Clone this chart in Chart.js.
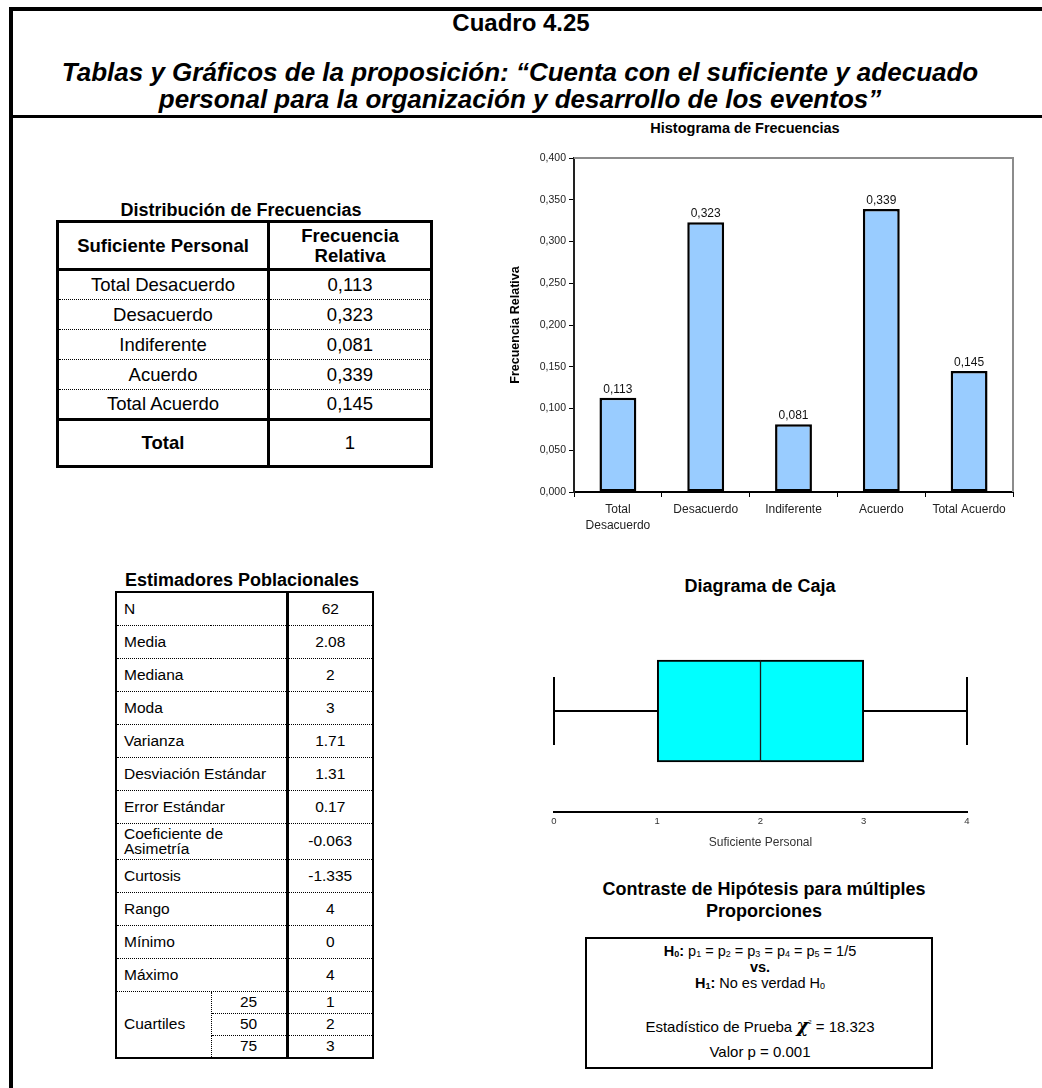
<!DOCTYPE html>
<html><head><meta charset="utf-8">
<script src="https://cdn.jsdelivr.net/npm/chart.js@4.4.1/dist/chart.umd.min.js"></script>
<style>
body{margin:0;background:#fff;}
#page{position:relative;width:1042px;height:1088px;overflow:hidden;font-family:"Liberation Sans",Arial,sans-serif;color:#000;background:#fff;}
.t{position:absolute;white-space:nowrap;transform:translate(-50%,-50%);line-height:1.15;text-align:center;}
.bar{position:absolute;background:#000;}
table{position:absolute;border-collapse:collapse;table-layout:fixed;}
td{padding:0;vertical-align:middle;}
sub{font-size:0.62em;vertical-align:-1px;}
canvas{position:absolute;}
</style></head>
<body><div id="page">
<div class="bar" style="left:9px;top:7px;width:1033px;height:4px;"></div>
<div class="bar" style="left:9px;top:7px;width:4px;height:1081px;"></div>
<div class="bar" style="left:9px;top:115px;width:1033px;height:3px;"></div>
<div class="t" style="left:521px;top:23px;font-size:24px;font-weight:bold;">Cuadro 4.25</div>
<div class="t" style="left:520px;top:73px;font-size:26px;font-weight:bold;font-style:italic;">Tablas y Gráficos de la proposición: “Cuenta con el suficiente y adecuado</div>
<div class="t" style="left:520px;top:100px;font-size:26px;font-weight:bold;font-style:italic;">personal para la organización y desarrollo de los eventos”</div>
<div class="t" style="left:745px;top:128px;font-size:14.5px;font-weight:bold;">Histograma de Frecuencias</div>
<div class="t" style="left:241px;top:210px;font-size:18px;font-weight:bold;">Distribución de Frecuencias</div>
<div class="t" style="left:242px;top:580px;font-size:18px;font-weight:bold;">Estimadores Poblacionales</div>
<div class="t" style="left:760px;top:586px;font-size:18px;font-weight:bold;">Diagrama de Caja</div>
<div class="t" style="left:764px;top:889px;font-size:18px;font-weight:bold;">Contraste de Hipótesis para múltiples</div>
<div class="t" style="left:764px;top:911px;font-size:18px;font-weight:bold;">Proporciones</div>
<div style="position:absolute;left:585px;top:937px;width:348px;height:132px;border:2px solid #000;box-sizing:border-box;"></div>
<div class="t" style="left:760px;top:951px;font-size:14.5px;"><b>H<sub>0</sub>:</b> p<sub>1</sub> = p<sub>2</sub> = p<sub>3</sub> = p<sub>4</sub> = p<sub>5</sub> = 1/5</div>
<div class="t" style="left:760px;top:967px;font-size:14.5px;font-weight:bold;">vs.</div>
<div class="t" style="left:760px;top:983px;font-size:14.5px;"><b>H<sub>1</sub>:</b> No es verdad H<sub>0</sub></div>
<div class="t" id="chiLine" style="left:760px;top:1026px;font-size:15px;"></div>
<div class="t" id="pLine" style="left:760px;top:1052px;font-size:15px;"></div>
<canvas id="hist" width="530" height="410" style="left:500px;top:140px;width:530px;height:410px;"></canvas>
<canvas id="box" width="480" height="260" style="left:530px;top:600px;width:480px;height:260px;"></canvas>
</div>
<script>
// ---------- data ----------
const categories = ['Total Desacuerdo', 'Desacuerdo', 'Indiferente', 'Acuerdo', 'Total Acuerdo'];
const histAxisLabels = [['Total', 'Desacuerdo'], 'Desacuerdo', 'Indiferente', 'Acuerdo', 'Total Acuerdo'];
const relativeFrequencies = [0.113, 0.323, 0.081, 0.339, 0.145];
const totalFrequency = 1;
const histYMax = 0.4;
const histYStep = 0.05;
const estimatorLabels = ['N', 'Media', 'Mediana', 'Moda', 'Varianza', 'Desviación Estándar', 'Error Estándar', 'Coeficiente de\nAsimetría', 'Curtosis', 'Rango', 'Mínimo', 'Máximo'];
const estimatorValues = ['62', '2.08', '2', '3', '1.71', '1.31', '0.17', '-0.063', '-1.335', '4', '0', '4'];
const quartileLevels = ['25', '50', '75'];
const quartileValues = ['1', '2', '3'];
const boxFiveNumbers = [0, 1, 2, 3, 4]; // min, Q1, median, Q3, max
const boxAxisMin = 0, boxAxisMax = 4, boxAxisStep = 1;
const chiSquare = '18.323';
const pValue = '0.001';

const FONT = '"Liberation Sans", Arial, sans-serif';
const fmtComma = v => v.toFixed(3).replace('.', ',');
const page = document.getElementById('page');

document.getElementById('chiLine').innerHTML = 'Estadístico de Prueba <span style="font-family:\'DejaVu Serif\',serif;font-style:italic;font-weight:bold;font-size:18px;">χ</span><sup style="font-size:6px;vertical-align:8px;">2</sup> = ' + chiSquare;
document.getElementById('pLine').textContent = 'Valor p = ' + pValue;

// ---------- distribution table ----------
(function () {
  const t = document.createElement('table');
  t.style.cssText = 'left:56px;top:220px;width:374px;border:3px solid #000;font-size:18.5px;';
  t.innerHTML = '<colgroup><col style="width:211px"><col style="width:163px"></colgroup>';
  const head = document.createElement('tr');
  head.style.height = '48px';
  head.innerHTML = '<td style="text-align:center;font-weight:bold;border-right:3px solid #000;border-bottom:3px solid #000;">Suficiente Personal</td>' +
    '<td style="text-align:center;font-weight:bold;border-bottom:3px solid #000;line-height:1.05;">Frecuencia<br>Relativa</td>';
  t.appendChild(head);
  categories.forEach((c, i) => {
    const tr = document.createElement('tr');
    tr.style.height = '30px';
    const bb = i === categories.length - 1 ? '3px solid #000' : '1px dotted #000';
    tr.innerHTML = '<td style="text-align:center;border-right:3px solid #000;border-bottom:' + bb + ';">' + c + '</td>' +
      '<td style="text-align:center;border-bottom:' + bb + ';">' + fmtComma(relativeFrequencies[i]) + '</td>';
    t.appendChild(tr);
  });
  const tot = document.createElement('tr');
  tot.style.height = '47px';
  tot.innerHTML = '<td style="text-align:center;font-weight:bold;border-right:3px solid #000;">Total</td><td style="text-align:center;">' + totalFrequency + '</td>';
  t.appendChild(tot);
  page.appendChild(t);
})();

// ---------- estimators table ----------
(function () {
  const t = document.createElement('table');
  t.style.cssText = 'left:115px;top:591px;width:257px;border:2px solid #000;font-size:15.5px;';
  t.innerHTML = '<colgroup><col style="width:95px"><col style="width:76px"><col style="width:86px"></colgroup>';
  estimatorLabels.forEach((lab, i) => {
    const tr = document.createElement('tr');
    const twoLines = lab.indexOf('\n') >= 0;
    tr.style.height = (twoLines ? 36 : 33) + 'px';
    tr.innerHTML = '<td colspan="2" style="padding-left:7px;line-height:1.0;border-right:3px solid #000;border-bottom:1px dotted #000;">' + lab.replace('\n', '<br>') + '</td>' +
      '<td style="text-align:center;border-bottom:1px dotted #000;">' + estimatorValues[i] + '</td>';
    t.appendChild(tr);
  });
  quartileLevels.forEach((q, i) => {
    const tr = document.createElement('tr');
    tr.style.height = (i === 2 ? 23 : 22) + 'px';
    const bb = i === 2 ? 'none' : '1px dotted #000';
    let html = '';
    if (i === 0) html += '<td rowspan="3" style="padding-left:7px;border-right:1px dotted #000;">Cuartiles</td>';
    html += '<td style="text-align:center;border-right:3px solid #000;border-bottom:' + bb + ';">' + q + '</td>' +
      '<td style="text-align:center;border-bottom:' + bb + ';">' + quartileValues[i] + '</td>';
    tr.innerHTML = html;
    t.appendChild(tr);
  });
  page.appendChild(t);
})();

// ---------- histogram ----------
const histFrame = {
  id: 'histFrame',
  beforeDatasetsDraw(chart) {
    const {ctx, chartArea: a} = chart;
    ctx.save();
    ctx.strokeStyle = '#8c8c8c';
    ctx.lineWidth = 2;
    ctx.beginPath();
    ctx.moveTo(a.left, a.top);
    ctx.lineTo(a.right, a.top);
    ctx.lineTo(a.right, a.bottom);
    ctx.stroke();
    ctx.restore();
  },
  afterDatasetsDraw(chart) {
    const {ctx} = chart;
    const meta = chart.getDatasetMeta(0);
    ctx.save();
    ctx.fillStyle = '#111';
    ctx.font = '12px ' + FONT;
    ctx.textAlign = 'center';
    ctx.textBaseline = 'alphabetic';
    meta.data.forEach((bar, i) => {
      ctx.fillText(fmtComma(relativeFrequencies[i]), bar.x, bar.y - 5);
    });
    ctx.restore();
  }
};

new Chart(document.getElementById('hist'), {
  type: 'bar',
  data: {
    labels: histAxisLabels,
    datasets: [{
      data: relativeFrequencies,
      backgroundColor: '#99CCFF',
      borderColor: '#000',
      borderWidth: 2.5,
      borderSkipped: false,
      barPercentage: 0.42,
      categoryPercentage: 1
    }]
  },
  options: {
    responsive: false,
    animation: false,
    devicePixelRatio: 1,
    layout: {padding: {top: 18, right: 17, left: 0, bottom: 0}},
    plugins: {legend: {display: false}, tooltip: {enabled: false}},
    scales: {
      x: {
        grid: {display: true, drawOnChartArea: false, drawTicks: true, tickLength: 5, color: '#000', offset: true},
        border: {display: true, color: '#000', width: 2},
        ticks: {color: '#222', font: {size: 12, family: FONT, lineHeight: 1.3}, padding: 5, maxRotation: 0, autoSkip: false},
        afterFit: s => { s.height = 58; }
      },
      y: {
        min: 0, max: histYMax,
        ticks: {stepSize: histYStep, callback: v => fmtComma(v), color: '#222', font: {size: 10.5, family: FONT}, padding: 3},
        grid: {drawOnChartArea: false, tickLength: 5, color: '#000'},
        border: {display: true, color: '#222', width: 2},
        title: {display: true, text: 'Frecuencia Relativa', color: '#000', font: {size: 12.5, weight: 'bold', family: FONT}, padding: {top: 8, bottom: 0}},
        afterFit: s => { s.width = 74; }
      }
    }
  },
  plugins: [histFrame]
});

// ---------- box plot ----------
const whiskers = {
  id: 'whiskers',
  beforeDatasetsDraw(chart) {
    const {ctx} = chart;
    const xs = chart.scales.x, ys = chart.scales.y;
    const yc = ys.getPixelForValue(0);
    const [mn, q1, , q3, mx] = boxFiveNumbers;
    ctx.save();
    ctx.strokeStyle = '#000';
    ctx.lineWidth = 2;
    ctx.beginPath();
    ctx.moveTo(xs.getPixelForValue(mn), yc); ctx.lineTo(xs.getPixelForValue(q1), yc);
    ctx.moveTo(xs.getPixelForValue(q3), yc); ctx.lineTo(xs.getPixelForValue(mx), yc);
    ctx.moveTo(xs.getPixelForValue(mn), yc - 34); ctx.lineTo(xs.getPixelForValue(mn), yc + 34);
    ctx.moveTo(xs.getPixelForValue(mx), yc - 34); ctx.lineTo(xs.getPixelForValue(mx), yc + 34);
    ctx.stroke();
    ctx.restore();
  }
};

new Chart(document.getElementById('box'), {
  type: 'bar',
  data: {
    labels: ['Suficiente Personal'],
    datasets: [
      {data: [[boxFiveNumbers[1], boxFiveNumbers[2]]], backgroundColor: '#00FFFF', borderColor: '#000',
        borderWidth: {top: 2, bottom: 2, left: 2, right: 1}, borderSkipped: false, barThickness: 102, grouped: false},
      {data: [[boxFiveNumbers[2], boxFiveNumbers[3]]], backgroundColor: '#00FFFF', borderColor: '#000',
        borderWidth: {top: 2, bottom: 2, left: 1, right: 2}, borderSkipped: false, barThickness: 102, grouped: false}
    ]
  },
  options: {
    indexAxis: 'y',
    responsive: false,
    animation: false,
    devicePixelRatio: 1,
    layout: {padding: {left: 24, right: 43, top: 10, bottom: 0}},
    plugins: {legend: {display: false}, tooltip: {enabled: false}},
    scales: {
      y: {display: false},
      x: {
        type: 'linear', min: boxAxisMin, max: boxAxisMax,
        ticks: {stepSize: boxAxisStep, color: '#333', font: {size: 9.5, family: FONT}, padding: 4},
        grid: {drawOnChartArea: false, drawTicks: false},
        border: {display: true, color: '#000', width: 2},
        title: {display: true, text: 'Suficiente Personal', color: '#333', font: {size: 12, family: FONT}, padding: {top: 0, bottom: 10}},
        afterFit: s => { s.height = 48; }
      }
    }
  },
  plugins: [whiskers]
});
</script>
</body></html>
